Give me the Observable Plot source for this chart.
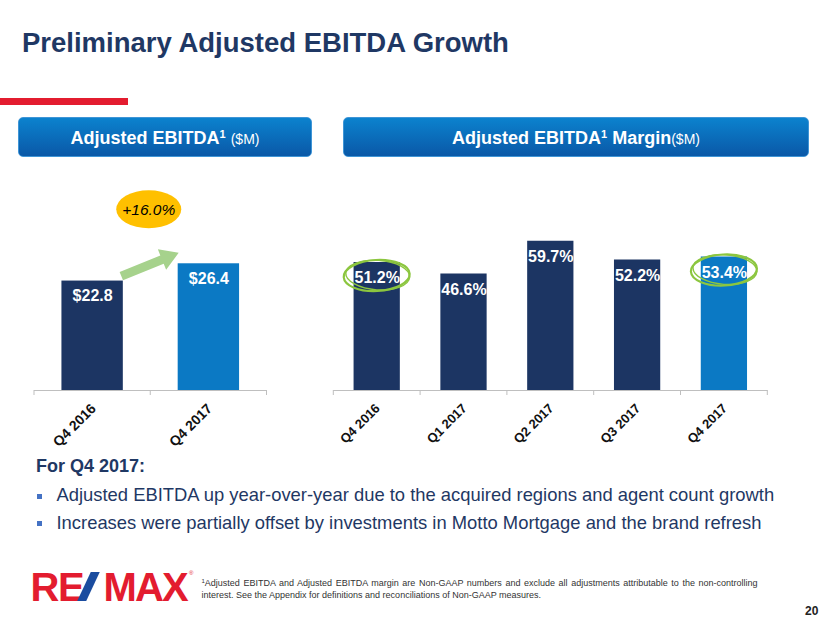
<!DOCTYPE html>
<html>
<head>
<meta charset="utf-8">
<script src="https://cdn.jsdelivr.net/npm/d3@7"></script>
<script src="https://cdn.jsdelivr.net/npm/@observablehq/plot@0.6"></script>
<style>
  html, body { margin: 0; padding: 0; background: #fff; }
  #page { position: relative; width: 830px; height: 623px; overflow: hidden;
          font-family: "Liberation Sans", Arial, Helvetica, sans-serif; }
  .abs { position: absolute; white-space: nowrap; }
  .hbox { position: absolute; border-radius: 5px; box-sizing: border-box;
          background: linear-gradient(#0b82ce, #0a58a7); border: 1px solid #3f95d6; }
  .htext { position: absolute; left: 0; width: 100%; text-align: center; color: #fff;
           font-weight: bold; font-size: 18px; line-height: 18px; white-space: nowrap; }
  .sup { font-size: 11px; line-height: 0; position: relative; top: -5.5px; }
  .unit { font-size: 14px; font-weight: normal; line-height: 0; }
  .bullet { position: absolute; width: 5px; height: 5px; background: #4472c4; }
  .btext { font-size: 18.4px; line-height: 18.4px; color: #1f3864; }
</style>
</head>
<body>
<div id="page">
  <div class="abs" style="left:22px;top:28.7px;font-size:27.5px;line-height:27.5px;font-weight:bold;color:#1f3864;">Preliminary Adjusted EBITDA Growth</div>
  <div class="abs" style="left:0;top:98px;width:128px;height:7px;background:#e31c2f;"></div>

  <div class="hbox" style="left:18px;top:116.5px;width:294px;height:40.5px;">
    <div class="htext" style="top:11.3px;">Adjusted EBITDA<span class="sup">1</span> <span class="unit">($M)</span></div>
  </div>
  <div class="hbox" style="left:343px;top:116.5px;width:466px;height:40.5px;">
    <div class="htext" style="top:11.3px;">Adjusted EBITDA<span class="sup">1</span> Margin<span class="unit">($M)</span></div>
  </div>

  <div id="leftChart" class="abs" style="left:0;top:180px;"></div>
  <div id="rightChart" class="abs" style="left:310px;top:180px;"></div>

  <div class="abs" style="left:36px;top:457.1px;font-size:18px;line-height:18px;font-weight:bold;color:#1f3864;">For Q4 2017:</div>
  <div class="bullet" style="left:36.5px;top:493.5px;"></div>
  <div class="abs btext" style="left:56.5px;top:486.1px;">Adjusted EBITDA up year-over-year due to the acquired regions and agent count growth</div>
  <div class="bullet" style="left:36.5px;top:521px;"></div>
  <div class="abs btext" style="left:56.5px;top:514.4px;">Increases were partially offset by investments in Motto Mortgage and the brand refresh</div>

  <div class="abs" style="left:30.5px;top:566.8px;font-size:40px;line-height:40px;font-weight:bold;color:#e31c2f;letter-spacing:-1.5px;">RE</div>
  <div class="abs" style="left:84px;top:571.7px;width:8.5px;height:29px;background:#1a4c9f;transform:skewX(-25deg);"></div>
  <div class="abs" style="left:103.5px;top:566.8px;font-size:40px;line-height:40px;font-weight:bold;color:#e31c2f;letter-spacing:-1.8px;">MAX</div>
  <div class="abs" style="left:189px;top:570px;font-size:6px;line-height:6px;color:#e31c2f;">®</div>

  <div id="fn1" class="abs" style="left:201.5px;top:579.1px;font-size:9px;line-height:9px;color:#333;"><span style="font-size:6px;position:relative;top:-3px;line-height:0;">1</span>Adjusted EBITDA and Adjusted EBITDA margin are Non-GAAP numbers and exclude all adjustments attributable to the non-controlling</div>
  <div class="abs" style="left:201.5px;top:590.7px;font-size:9px;line-height:9px;color:#333;">interest. See the Appendix for definitions and reconciliations of Non-GAAP measures.</div>

  <div class="abs" style="left:805px;top:604.8px;font-size:12px;line-height:12px;font-weight:bold;color:#222;">20</div>
</div>

<script>
// ---------- data ----------
const ebitdaPeriods = ["Q4 2016", "Q4 2017"];
const ebitdaValues = [22.8, 26.4];
const ebitdaLabels = ["$22.8", "$26.4"];
const growthLabel = "+16.0%";

const marginPeriods = ["Q4 2016", "Q1 2017", "Q2 2017", "Q3 2017", "Q4 2017"];
const marginValues = [51.2, 46.6, 59.7, 52.2, 53.4];
const marginLabels = ["51.2%", "46.6%", "59.7%", "52.2%", "53.4%"];
const circledPeriods = ["Q4 2016", "Q4 2017"];
const currentPeriod = "Q4 2017";

// ---------- styling ----------
const FONT = '"Liberation Sans", Arial, Helvetica, sans-serif';
const NAVY = "#1c3563";
const BLUE = "#0b79c4";
const AXIS = "#bfbfbf";
const GREEN = "#8cc63f";
const ARROW = "#a6d28c";
const YELLOW = "#ffc000";

const ebitda = ebitdaPeriods.map((period, i) => ({period, value: ebitdaValues[i], label: ebitdaLabels[i]}));
const margin = marginPeriods.map((period, i) => ({period, value: marginValues[i], label: marginLabels[i]}));
const fillFor = d => d.period === currentPeriod ? BLUE : NAVY;

// category-boundary tick marks (Excel-style category axis)
function categoryTicks(index, scales, values, dims) {
  const x = scales.x;
  const dom = x.domain();
  const bw = x.bandwidth(), step = x.step();
  const gap = (step - bw) / 2;
  const y0 = dims.height - dims.marginBottom;
  const g = d3.create("svg:g").attr("stroke", AXIS).attr("stroke-width", 1);
  const xs = dom.map(d => x(d) - gap).concat([x(dom[dom.length - 1]) + bw + gap]);
  for (const xx of xs) {
    g.append("line").attr("x1", xx).attr("x2", xx).attr("y1", y0).attr("y2", y0 + 5);
  }
  return g.node();
}

function growthAnnotation(index, scales) {
  const x = scales.x, y = scales.y, bw = x.bandwidth();
  const [a, b] = ebitda;
  const g = d3.create("svg:g");
  const tail = [x(a.period) + bw - 1.5, y(a.value) - 4.5];
  const tip = [x(b.period) + 1, y(b.value) - 10.5];
  const dx = tip[0] - tail[0], dy = tip[1] - tail[1];
  const len = Math.hypot(dx, dy);
  const ux = dx / len, uy = dy / len, nx = -uy, ny = ux;
  const shaft = 4.5, head = 11, headLen = 18;
  const neck = [tip[0] - ux * headLen, tip[1] - uy * headLen];
  const pts = [
    [tail[0] + nx * shaft, tail[1] + ny * shaft],
    [neck[0] + nx * shaft, neck[1] + ny * shaft],
    [neck[0] + nx * head, neck[1] + ny * head],
    tip,
    [neck[0] - nx * head, neck[1] - ny * head],
    [neck[0] - nx * shaft, neck[1] - ny * shaft],
    [tail[0] - nx * shaft, tail[1] - ny * shaft]
  ];
  g.append("polygon").attr("points", pts.map(p => p.join(",")).join(" ")).attr("fill", ARROW);
  const cx = (x(a.period) + x(b.period) + bw) / 2 - 1.5;
  const cy = y(b.value) - 54;
  g.append("ellipse").attr("cx", cx).attr("cy", cy).attr("rx", 32.5).attr("ry", 19).attr("fill", YELLOW);
  g.append("text").attr("x", cx).attr("y", cy + 5.5).attr("text-anchor", "middle")
    .attr("font-style", "italic").attr("font-size", 15.5).attr("fill", "#000").text(growthLabel);
  return g.node();
}

function circleHighlights(index, scales) {
  const x = scales.x, y = scales.y, bw = x.bandwidth();
  const g = d3.create("svg:g").attr("fill", "none").attr("stroke", GREEN);
  for (const d of margin.filter(d => circledPeriods.includes(d.period))) {
    const cx = x(d.period) + bw / 2, cy = y(d.value) + 13.5;
    g.append("ellipse").attr("cx", cx).attr("cy", cy).attr("rx", 33).attr("ry", 15.5)
      .attr("stroke-width", 2.2).attr("transform", `rotate(-3 ${cx} ${cy})`);
    g.append("ellipse").attr("cx", cx + 1).attr("cy", cy - 0.5).attr("rx", 32).attr("ry", 14.8)
      .attr("stroke-width", 1.4).attr("transform", `rotate(4 ${cx} ${cy})`);
  }
  return g.node();
}

const leftPlot = Plot.plot({
  width: 300, height: 270,
  marginLeft: 34, marginRight: 33.5, marginTop: 0, marginBottom: 60,
  x: {domain: ebitdaPeriods, paddingInner: 0.472, paddingOuter: 0.236, round: false, axis: null},
  y: {domain: [0, 43.75], axis: null},
  style: {fontFamily: FONT, background: "transparent", overflow: "visible"},
  marks: [
    Plot.barY(ebitda, {x: "period", y: "value", fill: fillFor}),
    Plot.ruleY([0], {stroke: AXIS, strokeWidth: 1}),
    categoryTicks,
    Plot.text(ebitda, {x: "period", y: "value", text: "label", dy: 20, lineAnchor: "bottom",
      fill: "white", fontWeight: "bold", fontSize: 16}),
    Plot.text(ebitdaPeriods, {x: d => d, text: d => d, frameAnchor: "bottom", dy: 12, dx: -3,
      rotate: -45, textAnchor: "end", lineAnchor: "top", fontSize: 14, fontWeight: "bold", fill: "#111"}),
    growthAnnotation
  ]
});
document.getElementById("leftChart").appendChild(leftPlot);

const rightPlot = Plot.plot({
  width: 500, height: 270,
  marginLeft: 23.3, marginRight: 42.7, marginTop: 0, marginBottom: 60,
  x: {domain: marginPeriods, paddingInner: 0.467, paddingOuter: 0.2335, round: false, axis: null},
  y: {domain: [0, 84], axis: null},
  style: {fontFamily: FONT, background: "transparent", overflow: "visible"},
  marks: [
    Plot.barY(margin, {x: "period", y: "value", fill: fillFor}),
    Plot.ruleY([0], {stroke: AXIS, strokeWidth: 1}),
    categoryTicks,
    Plot.text(margin, {x: "period", y: "value", text: "label", dy: 20.5, lineAnchor: "bottom",
      fill: "white", fontWeight: "bold", fontSize: 16}),
    Plot.text(marginPeriods, {x: d => d, text: d => d, frameAnchor: "bottom", dy: 12, dx: -3,
      rotate: -45, textAnchor: "end", lineAnchor: "top", fontSize: 13, fontWeight: "bold", fill: "#111"}),
    circleHighlights
  ]
});
document.getElementById("rightChart").appendChild(rightPlot);

// justify first footnote line to its column width
(function () {
  const el = document.getElementById("fn1");
  const target = 556;
  const w = el.getBoundingClientRect().width;
  const spaces = (el.textContent.match(/ /g) || []).length;
  if (spaces > 0) el.style.wordSpacing = ((target - w) / spaces) + "px";
})();
</script>
</body>
</html>
